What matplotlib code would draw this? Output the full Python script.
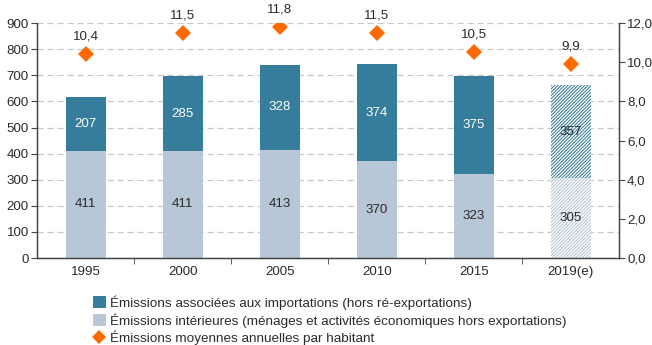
import matplotlib
matplotlib.use("Agg")
import matplotlib.pyplot as plt
from matplotlib.patches import Patch
from matplotlib.lines import Line2D
import numpy as np

plt.rcParams['font.family'] = ['Liberation Sans', 'DejaVu Sans']
plt.rcParams['hatch.linewidth'] = 0.75

years = ["1995", "2000", "2005", "2010", "2015", "2019(e)"]
interieures = [411, 411, 413, 370, 323, 305]
importations = [207, 285, 328, 374, 375, 357]
par_habitant = [10.4, 11.5, 11.8, 11.5, 10.5, 9.9]
estimated = [False, False, False, False, False, True]

dark_blue = "#367c9b"
light_blue = "#b7c7d7"
orange = "#ff6a00"
text_col = "#2b2b2b"
fs = 9.6

fig = plt.figure(figsize=(6.52, 3.45), dpi=100)
ax = fig.add_axes([0.057, 0.252, 0.893, 0.681])
ax2 = ax.twinx()

x = np.arange(len(years))
w = 0.41
for i in x:
    if estimated[i]:
        ax.bar(i, interieures[i], w, color="white", hatch="/" * 10, edgecolor=light_blue, linewidth=0)
        ax.bar(i, importations[i], w, bottom=interieures[i], color="white", hatch="/" * 10,
               edgecolor=dark_blue, linewidth=0)
        c1 = c2 = text_col
    else:
        ax.bar(i, interieures[i], w, color=light_blue, linewidth=0)
        ax.bar(i, importations[i], w, bottom=interieures[i], color=dark_blue, linewidth=0)
        c1, c2 = text_col, "white"
    ax.text(i, interieures[i] / 2, str(interieures[i]), ha="center", va="center",
            fontsize=fs, color=c1)
    ax.text(i, interieures[i] + importations[i] / 2, str(importations[i]), ha="center",
            va="center", fontsize=fs, color=c2)

ax.set_ylim(0, 900)
ax.set_yticks(range(0, 901, 100))
ax.set_xlim(-0.5, len(years) - 0.5)
ax.set_xticks(x)
ax.set_xticklabels(years)
ax.set_xticks(np.arange(0.5, len(years) - 0.5, 1), minor=True)
ax.tick_params(axis="x", which="major", length=0, pad=6, labelsize=fs, labelcolor=text_col)
ax.tick_params(axis="x", which="minor", length=4, direction="out", color="#444444")
ax.tick_params(axis="y", length=4, pad=2, labelsize=fs, labelcolor=text_col, color="#444444")
ax.grid(axis="y", linestyle=(0, (5, 3)), color="#c8c8c8", linewidth=0.9)
ax.set_axisbelow(True)

ax2.plot(x, par_habitant, linestyle="none", marker="D", markersize=8.5, color=orange,
         markeredgewidth=0)
for i, v in zip(x, par_habitant):
    ax2.annotate(f"{v:.1f}".replace(".", ","), (i, v), xytext=(0, 8.5), textcoords="offset points",
                 ha="center", va="bottom", fontsize=fs, color=text_col)
ax2.set_ylim(0, 12)
ax2.set_yticks(np.arange(0, 12.1, 2))
ax2.set_yticklabels([f"{v:.1f}".replace(".", ",") for v in np.arange(0, 12.1, 2)])
ax2.tick_params(axis="y", length=4, pad=1.5, labelsize=fs, labelcolor=text_col, color="#444444")

for a in (ax, ax2):
    a.spines["top"].set_visible(False)
    for s in ("left", "right", "bottom"):
        a.spines[s].set_color("#444444")
        a.spines[s].set_linewidth(0.9)

handles = [
    Patch(facecolor=dark_blue, label="Émissions associées aux importations (hors ré-exportations)"),
    Patch(facecolor=light_blue, label="Émissions intérieures (ménages et activités économiques hors exportations)"),
    Line2D([], [], linestyle="none", marker="D", markersize=7, color=orange, markeredgewidth=0,
           label="Émissions moyennes annuelles par habitant"),
]
fig.legend(handles=handles, loc="upper left", bbox_to_anchor=(0.135, 0.16), frameon=False,
           fontsize=9.7, handlelength=0.9, handleheight=0.9, handletextpad=0.3,
           labelspacing=0.25, borderaxespad=0, labelcolor=text_col)

fig.savefig("out.png", dpi=100)
